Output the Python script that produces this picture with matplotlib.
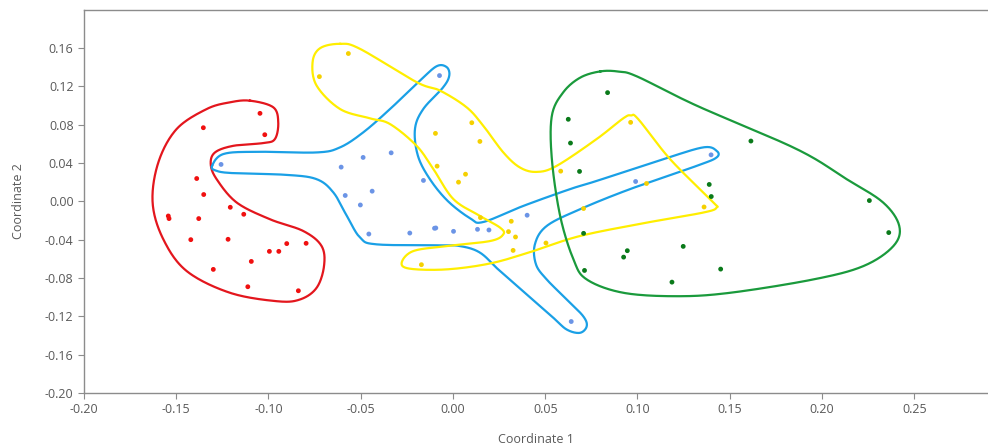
import matplotlib
matplotlib.use("Agg")
import matplotlib.pyplot as plt
import numpy as np

# Координаты точек по группам
red_x = [-0.1046, -0.1353, -0.1020, -0.1389, -0.1351, -0.1207, -0.1134, -0.1543, -0.1539,
         -0.1378, -0.1421, -0.1219, -0.0901, -0.0796, -0.0995, -0.0944, -0.1093, -0.1299,
         -0.1112, -0.0838]
red_y = [0.0917, 0.0767, 0.0694, 0.0237, 0.0070, -0.0063, -0.0136, -0.0154, -0.0181,
         -0.0181, -0.0401, -0.0397, -0.0442, -0.0439, -0.0523, -0.0523, -0.0628, -0.0711,
         -0.0892, -0.0934]

blue_x = [-0.0073, -0.0487, -0.0335, -0.0606, -0.0160, -0.0584, -0.0438, -0.0502, -0.0456,
          -0.0234, -0.0100, -0.0093, 0.0003, 0.0133, 0.0195, 0.0402, -0.1257, 0.1399,
          0.0990, 0.0641]
blue_y = [0.1311, 0.0457, 0.0505, 0.0356, 0.0217, 0.0060, 0.0105, -0.0039, -0.0342,
          -0.0332, -0.0282, -0.0279, -0.0314, -0.0293, -0.0300, -0.0146, 0.0384, 0.0484,
          0.0206, -0.1255]

yellow_x = [-0.0567, -0.0724, 0.0102, -0.0095, 0.0146, -0.0086, 0.0068, 0.0030, 0.0149,
            0.0316, 0.0301, 0.0339, 0.0326, 0.0504, -0.0171, 0.0584, 0.0963, 0.1049,
            0.0708, 0.1361]
yellow_y = [0.1541, 0.1300, 0.0819, 0.0708, 0.0624, 0.0366, 0.0282, 0.0199, -0.0171,
            -0.0209, -0.0317, -0.0373, -0.0513, -0.0436, -0.0662, 0.0314, 0.0823, 0.0185,
            -0.0076, -0.0060]

green_x = [0.0838, 0.0625, 0.0637, 0.0686, 0.1615, 0.1389, 0.1400, 0.2257, 0.2362, 0.0708,
           0.1248, 0.0945, 0.0925, 0.0713, 0.1451, 0.1187]
green_y = [0.1133, 0.0855, 0.0607, 0.0311, 0.0628, 0.0175, 0.0049, 0.0007, -0.0327, -0.0335,
           -0.0471, -0.0516, -0.0583, -0.0722, -0.0708, -0.0844]

# Контуры групп (опорные точки, сглаживаются сплайном)
red_outline = [(-0.110, 0.1049), (-0.0974, 0.098), (-0.0947, 0.0823), (-0.0965, 0.0649),
               (-0.1028, 0.0607), (-0.1191, 0.0578), (-0.129, 0.0509), (-0.1313, 0.0387),
               (-0.1281, 0.0230), (-0.1172, -0.0014), (-0.0992, -0.0188), (-0.0811, -0.0311),
               (-0.0712, -0.0468), (-0.0699, -0.0677), (-0.0739, -0.0903), (-0.0829, -0.1025),
               (-0.0955, -0.1043), (-0.1209, -0.0955), (-0.1443, -0.0729), (-0.157, -0.0397),
               (-0.1628, -0.0014), (-0.1597, 0.0405), (-0.1498, 0.0753), (-0.1335, 0.0962),
               (-0.1209, 0.1032)]

blue_outline = [(-0.1306, 0.0366), (-0.1245, 0.0492), (-0.1064, 0.0516), (-0.0739, 0.0509),
                (-0.0612, 0.0562), (-0.0486, 0.0719), (-0.0341, 0.0962), (-0.0179, 0.1258),
                (-0.0088, 0.1409), (-0.0034, 0.1399), (-0.002, 0.1311), (-0.0053, 0.1189),
                (-0.0161, 0.0962), (-0.0206, 0.0753), (-0.019, 0.0474), (-0.0125, 0.0230),
                (-0.0027, 0.0), (0.0093, -0.0178), (0.0164, -0.0217), (0.0381, -0.0049),
                (0.0634, 0.0126), (0.0779, 0.0212), (0.114, 0.0439), (0.1357, 0.0562),
                (0.1429, 0.0526), (0.1429, 0.0457), (0.1321, 0.0369), (0.0959, 0.0126),
                (0.0688, -0.0084), (0.0508, -0.0258), (0.0444, -0.0450), (0.045, -0.0659),
                (0.0508, -0.0816), (0.0617, -0.1025), (0.0706, -0.120), (0.0725, -0.1304),
                (0.0688, -0.1373), (0.0617, -0.1339), (0.0544, -0.1216), (0.040, -0.0973),
                (0.0255, -0.0729), (0.0147, -0.0537), (0.0039, -0.0468), (-0.007, -0.046),
                (-0.0413, -0.045), (-0.0503, -0.038), (-0.0575, -0.0154), (-0.0648, 0.0091),
                (-0.0739, 0.023), (-0.0901, 0.0275), (-0.1191, 0.0293), (-0.1281, 0.0317)]

yellow_outline = [(-0.0612, 0.1642), (-0.0504, 0.159), (-0.0197, 0.1242), (-0.007, 0.1154),
                  (0.0074, 0.098), (0.0164, 0.0788), (0.0273, 0.0509), (0.0363, 0.0352),
                  (0.0454, 0.0306), (0.0562, 0.0369), (0.0779, 0.0649), (0.0923, 0.0865),
                  (0.0965, 0.0895), (0.1005, 0.0855), (0.1177, 0.0439), (0.1403, 0.0003),
                  (0.1429, -0.0066), (0.1357, -0.0118), (0.1051, -0.0223), (0.0688, -0.0363),
                  (0.0419, -0.053), (0.0202, -0.0649), (-0.0034, -0.0711), (-0.0233, -0.0704),
                  (-0.0278, -0.0641), (-0.0215, -0.052), (-0.0034, -0.0468), (0.0202, -0.0415),
                  (0.0273, -0.0345), (0.0255, -0.0275), (0.0147, -0.0154), (0.0003, 0.0021),
                  (-0.0106, 0.0335), (-0.0197, 0.0578), (-0.0341, 0.0805), (-0.045, 0.0865),
                  (-0.0612, 0.0962), (-0.0739, 0.1206), (-0.0761, 0.145), (-0.072, 0.1597)]

green_outline = [(0.080, 0.1355), (0.090, 0.1352), (0.1000, 0.1300), (0.1321, 0.0997),
                 (0.1863, 0.0544), (0.2134, 0.023), (0.2332, -0.0014), (0.2419, -0.0258),
                 (0.2387, -0.0468), (0.2224, -0.0677), (0.1953, -0.0816), (0.1503, -0.0955),
                 (0.1214, -0.0991), (0.0923, -0.0955), (0.0725, -0.0816), (0.0653, -0.0607),
                 (0.0581, -0.0154), (0.0536, 0.0439), (0.0536, 0.0892), (0.0598, 0.1137),
                 (0.0690, 0.1290)]


def smooth_closed(pts, n=24):
    # замкнутый сплайн Катмулла-Рома
    p = np.asarray(pts, dtype=float)
    m = len(p)
    t = np.linspace(0, 1, n, endpoint=False)[:, None]
    seg = []
    for i in range(m):
        p0, p1, p2, p3 = p[i - 1], p[i], p[(i + 1) % m], p[(i + 2) % m]
        seg.append(0.5 * (2 * p1 + (-p0 + p2) * t
                          + (2 * p0 - 5 * p1 + 4 * p2 - p3) * t ** 2
                          + (-p0 + 3 * p1 - 3 * p2 + p3) * t ** 3))
    out = np.vstack(seg)
    return np.vstack([out, out[:1]])


plt.rcParams['font.family'] = ['Open Sans', 'DejaVu Sans']

fig = plt.figure(figsize=(9.88, 4.45), dpi=100)
ax = fig.add_axes([0.085, 0.117, 0.915, 0.8605])

groups = [
    (red_x, red_y, red_outline, "#f01010", "#e3161d"),
    (blue_x, blue_y, blue_outline, "#6b94e6", "#1aa0e6"),
    (yellow_x, yellow_y, yellow_outline, "#f5d000", "#ffee00"),
    (green_x, green_y, green_outline, "#0a7a1a", "#1a9a3c"),
]

for xs, ys, outline, pc, lc in groups:
    c = smooth_closed(outline)
    ax.plot(c[:, 0], c[:, 1], color=lc, lw=1.6, zorder=2)
    ax.scatter(xs, ys, s=12, color=pc, edgecolors="none", zorder=3)

ax.set_xlim(-0.20, 0.29)
ax.set_ylim(-0.20, 0.1995)
ax.set_xticks(np.arange(-0.20, 0.26, 0.05))
ax.set_xticklabels(["-0.20", "-0.15", "-0.10", "-0.05", "0.00", "0.05", "0.10", "0.15", "0.20", "0.25"])
ax.set_yticks(np.arange(-0.20, 0.17, 0.04))
ax.set_yticklabels(["-0.20", "-0.16", "-0.12", "-0.08", "-0.04", "0.00", "0.04", "0.08", "0.12", "0.16"])

for s in ["left", "bottom", "top"]:
    ax.spines[s].set_color("#8c8c8c")
    ax.spines[s].set_linewidth(1.0)
ax.spines["right"].set_visible(False)
ax.tick_params(direction="out", length=4, color="#8c8c8c", labelcolor="#595959", labelsize=9)

ax.set_xlabel("Coordinate 1", fontsize=9, color="#595959", labelpad=12)
ax.set_ylabel("Coordinate 2", fontsize=9, color="#595959", labelpad=14)

fig.savefig("out.png", dpi=100)
